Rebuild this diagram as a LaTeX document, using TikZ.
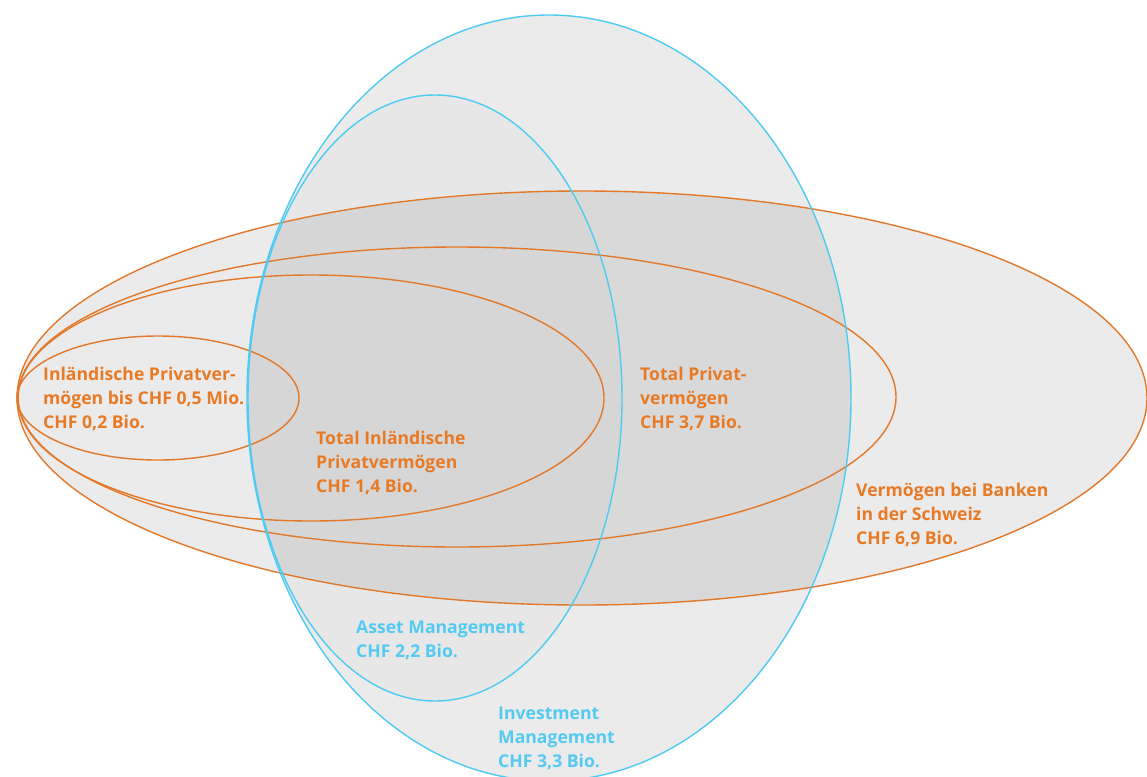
\documentclass[tikz,border=0pt]{standalone}
\usepackage{fontspec}
\setmainfont{Open Sans}
\definecolor{orng}{HTML}{E2792A}
\definecolor{blu}{HTML}{4ECBF2}
\definecolor{torng}{HTML}{E87A26}
\definecolor{tblu}{HTML}{52CAF2}
\definecolor{lightg}{HTML}{EBEBEB}
\definecolor{asg}{HTML}{E7E7E7}
\definecolor{midg}{HTML}{D9D9D9}
\definecolor{darkg}{HTML}{D6D6D6}
\begin{document}
\begin{tikzpicture}[x=1pt,y=-1pt,
  oline/.style={draw=orng,line width=1.4pt},
  bline/.style={draw=blu,line width=1.4pt},
  lbl/.style={anchor=base west,align=left,inner sep=0pt,
    font=\fontsize{17.6}{23.6}\selectfont\bfseries},
  olbl/.style={lbl,text=torng},
  blbl/.style={lbl,text=tblu}]
\useasboundingbox (0,0) rectangle (1147,776);
\clip (0,0) rectangle (1147,776);
% fills
\fill[lightg] (582,398) ellipse [x radius=565,y radius=207];
\fill[lightg] (549,398) ellipse [x radius=302,y radius=383];
\fill[asg] (435,398) ellipse [x radius=187,y radius=303];
\begin{scope}
  \clip (582,398) ellipse [x radius=565,y radius=207];
  \fill[midg] (549,398) ellipse [x radius=302,y radius=383];
  \fill[darkg] (435,398) ellipse [x radius=187,y radius=303];
\end{scope}
% outlines
\draw[oline] (582,398) ellipse [x radius=565,y radius=207];
\draw[oline] (457,397) ellipse [x radius=439,y radius=150];
\draw[oline] (311,398) ellipse [x radius=293,y radius=123];
\draw[oline] (158,398) ellipse [x radius=141,y radius=62];
\draw[bline] (549,398) ellipse [x radius=302,y radius=383];
\draw[bline] (435,398) ellipse [x radius=187,y radius=303];
% labels (anchor = baseline of last line)
\node[olbl] (l1) at (43,428) {Inländische Privatver-\\mögen bis CHF 0,5 Mio.\\CHF 0,2 Bio.};
\node[olbl] (l2) at (316,492) {Total Inländische\\Privatvermögen\\CHF 1,4 Bio.};
\node[olbl] (l3) at (640,428) {Total Privat-\\vermögen\\CHF 3,7 Bio.};
\node[olbl] (l4) at (856,544) {Vermögen bei Banken\\in der Schweiz\\CHF 6,9 Bio.};
\node[blbl] (l5) at (356,657) {Asset Management\\CHF 2,2 Bio.};
\node[blbl] (l6) at (498,767) {Investment\\Management\\CHF 3,3 Bio.};
\end{tikzpicture}
\end{document}
